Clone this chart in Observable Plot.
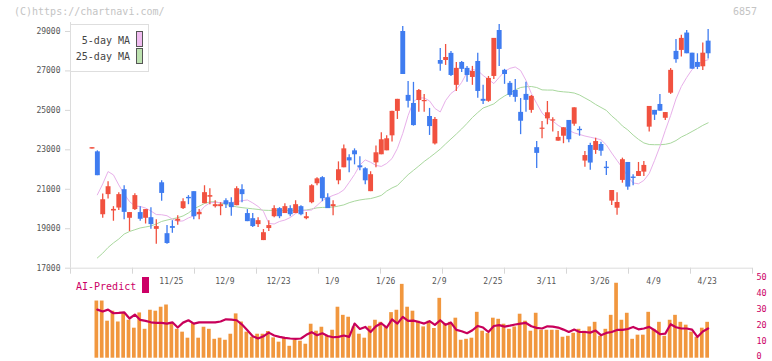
<!DOCTYPE html>
<html><head><meta charset="utf-8">
<script src="https://cdn.jsdelivr.net/npm/d3@7"></script>
<script src="https://cdn.jsdelivr.net/npm/@observablehq/plot@0.6"></script>
<style>
html,body{margin:0;padding:0;background:#fff;}
#wrap{position:relative;width:772px;height:361px;overflow:hidden;font-family:"DejaVu Sans Mono",monospace;}
#wrap svg{position:absolute;left:0;top:0;}
.lbl{position:absolute;white-space:nowrap;line-height:10px;font-size:10px;}
</style></head><body>
<div id="wrap"></div>
<script>
// ---- data ----
const open = [
23040,22900,19710,20730,19900,20050,20980,19530,19970,19820,
19530,19560,18970,21330,18750,19110,19380,20020,20590,20880,
19710,20270,20600,20120,20120,20420,20320,20170,20980,19770,
19510,19210,18400,19010,19610,20020,19770,20020,19770,20120,
19510,20320,21280,21590,20570,20120,21430,22090,22600,22950,
22190,22040,20880,22340,22750,22950,23710,24950,29000,25760,
25350,25500,25440,24690,23300,27530,27530,27890,26270,27430,
27130,26670,27480,25560,25460,26720,29050,27030,26370,26010,
24900,25810,25000,23110,24040,24570,24460,23440,23690,24490,
24300,24040,22430,23220,22970,23270,22120,20400,20040,21450,
22360,21620,21650,21870,24150,25000,25300,24600,25870,27990,
28040,28920,27900,27430,27210,28510];
const close = [
23110,21690,20470,21130,19980,20730,19830,19820,20680,19480,
19970,19210,19110,20790,18250,19020,19480,20370,20520,19610,
19830,20830,20680,20220,20220,20220,20070,21030,20730,19360,
19110,19410,18800,19160,20020,19610,20120,19710,20220,19710,
19610,21180,21530,20520,20020,20220,21990,23050,22440,22750,
22090,21430,21740,22850,23510,23560,24950,25560,26820,25460,
24230,26010,25500,24180,24540,27340,27680,26770,27130,27080,
26770,26970,25960,25460,26620,28650,28090,26820,25760,25660,
24450,25510,25710,22820,24100,24880,24520,23630,24120,23510,
25130,23970,22710,22330,23420,22930,22050,20940,20330,22500,
21110,21550,21900,22210,25200,24760,24960,24890,27030,27570,
28650,27870,27090,27180,27900,27870];
const high = [
23110,22950,20760,21380,20120,20830,21180,19820,20780,20120,
19970,20070,19460,21430,19160,19410,19660,20520,20680,20880,
19970,21180,21030,20420,20320,20520,20570,21130,21230,19970,
19770,19560,18960,19410,20170,20070,20270,20170,20420,20170,
19820,21230,21590,21640,20780,20420,22390,23250,22750,23050,
22650,22090,21890,23200,23860,23710,24950,25560,29250,26470,
26420,26060,25810,25100,24640,28140,28340,27990,27430,27480,
27230,27230,27890,26270,26720,28650,29350,27080,26470,26570,
25600,26420,25760,23420,24440,25450,24630,23930,24120,24490,
25130,24170,22920,23340,23590,23390,22410,20940,20820,22580,
22360,21740,22360,22410,25200,25000,25810,24890,27120,28590,
28810,29050,27900,27870,28410,29100];
const low = [
23040,21690,19530,20510,19380,19920,19460,18860,19920,19380,
19240,18970,18210,20390,18210,18770,19180,19970,20220,19460,
19460,20270,20220,20050,19660,20020,19630,20170,20320,19360,
19060,19060,18400,18860,19560,19510,19770,19610,19770,19660,
19460,20270,21180,20370,20020,19660,21230,22090,21840,22240,
21940,21230,20880,22090,22750,22950,23400,24540,26820,25120,
24200,24900,24910,23730,23250,26980,27280,26720,25960,26920,
26420,26270,25610,25300,25410,26570,27230,26320,25660,25410,
23770,24900,24850,22060,23560,24270,23900,23440,23310,23360,
24200,23690,22120,21970,22770,22680,21700,20180,19690,21310,
20950,21180,21650,21650,23900,24490,24960,24490,25810,27390,
27700,27870,27090,27070,27020,27610];
const ma5 = [
null,20720,21270,21900,21730,21220,20760,20380,20150,20130,
20050,19900,19720,19710,19660,19490,19370,19400,19550,19650,
19820,20130,20310,20340,20320,20320,20330,20370,20420,20460,
20310,20130,19880,19270,19240,19370,19440,19570,19770,19930,
19930,19950,20180,20430,20580,20690,20790,20970,21350,21750,
22230,22490,22370,22210,22160,22310,22560,23070,23830,24740,
25450,25630,25630,25480,25100,24920,25500,25860,26060,26420,
26920,27070,27020,26770,26570,26360,26670,26970,27130,27200,
27020,26520,25860,25350,24870,24590,24460,24240,24080,23980,
23860,23780,23700,23640,23580,23510,23250,22840,22460,22080,
21650,21320,21280,21450,21800,22460,23170,23980,24740,25580,
26210,26670,27070,27330,27480,27570];
const ma25 = [
null,17520,17760,18050,18280,18480,18730,18860,18950,19040,
19090,19140,19240,19370,19440,19500,19560,19650,19800,20010,
20140,20280,20360,20370,20300,20240,20160,20110,20070,20040,
20010,19980,19940,19930,19930,19930,19930,19930,19930,19930,
19950,20000,20060,20080,20090,20100,20150,20210,20320,20400,
20460,20500,20530,20600,20690,20910,21070,21190,21470,21740,
21960,22180,22410,22610,22820,23040,23300,23550,23800,24060,
24340,24640,24890,25120,25220,25330,25550,25730,25880,26040,
26160,26200,26210,26160,26040,26030,26030,25970,25940,25920,
25880,25780,25630,25480,25300,25150,25000,24720,24490,24210,
24010,23750,23530,23350,23270,23260,23260,23280,23340,23470,
23650,23780,23930,24080,24240,24370];
const volume = [
null,36.0,36.0,23.3,29.6,22.8,28.7,23.9,18.9,28.5,
18.2,30.2,29.6,32.1,33.5,22.4,18.2,16.4,12.6,21.8,
12.6,19.5,18.2,11.9,12.6,11.3,15.1,27.9,22.8,16.4,
13.2,15.1,15.1,16.8,12.8,10.1,12.8,7.5,11.3,10.7,
8.8,21.4,17.0,19.5,13.8,17.6,32.1,27.0,25.8,19.7,
15.1,12.6,20.1,23.9,22.6,19.7,28.7,30.2,46.5,32.1,
29.6,23.3,19.7,23.3,18.7,37.7,21.8,22.6,25.2,11.3,
11.9,12.6,28.9,17.0,15.5,25.2,24.5,21.4,18.2,19.7,
27.7,23.3,17.0,28.3,17.6,17.6,17.6,17.6,13.2,13.8,
15.7,18.2,17.0,19.7,22.6,13.8,18.2,27.0,47.2,23.9,
28.3,11.9,14.5,14.5,28.9,18.2,22.6,13.8,23.9,27.0,
22.6,20.8,16.4,13.2,18.9,22.6];
const aiPredict = [
null,30.6,29.4,30.6,28.3,28.5,28.9,25.0,27.5,24.1,
23.5,22.6,22.2,22.2,21.8,22.6,19.3,22.4,23.9,21.8,
22.6,22.6,22.6,22.6,23.1,24.5,24.3,23.9,21.2,17.6,
13.8,12.4,13.8,16.1,14.3,13.4,12.8,12.4,12.2,12.4,
14.7,16.4,14.5,15.7,14.0,13.2,13.4,14.3,13.4,21.8,
18.4,19.7,16.5,20.1,22.0,19.3,24.5,21.8,26.0,23.5,
23.7,22.8,21.8,23.3,21.0,23.9,21.0,22.4,17.8,17.0,
15.7,17.6,20.3,19.3,16.5,20.3,20.8,19.9,20.5,21.2,
21.8,22.2,20.1,19.1,18.7,20.1,19.9,19.3,18.0,16.5,
18.0,16.5,16.5,16.1,17.4,14.5,15.9,16.5,17.8,17.8,
18.4,19.7,18.2,18.7,19.7,17.6,15.1,15.5,21.4,19.5,
18.7,18.7,18.0,13.4,16.8,18.7];
const labelIdx = [15,25,35,45,55,65,75,85,95,105,115];
const labelText = ["11/25","12/9","12/23","1/9","1/26","2/9","2/25","3/11","3/26","4/9","4/23"];
const priceTicks = [17000,19000,21000,23000,25000,27000,29000];
const volTicks = [0,10,20,30,40,50];

// ---- build ----
const RED = "#f1513f", BLUE = "#3f7cf0";
const idx = open.map((_, i) => i);
const candles = idx.map(i => ({i, o: open[i], h: high[i], l: low[i], c: close[i], col: close[i] >= open[i] ? RED : BLUE}));
const labels = labelIdx.map((d, k) => ({i: d, t: labelText[k]}));
const xDomain = [-4.013, 123.28];
const gridTicks = d3.range(12).map(k => xDomain[0] + k * (xDomain[1] - xDomain[0]) / 11);
const font = {fontFamily: "DejaVu Sans Mono, monospace", fontSize: "8px", background: "transparent", overflow: "visible"};

const main = Plot.plot({
  width: 772, height: 361,
  marginLeft: 70, marginRight: 20, marginTop: 22.1, marginBottom: 93.3,
  style: font,
  color: {type: "identity"},
  x: {domain: xDomain, axis: null},
  y: {domain: [17000, 29450], axis: null},
  marks: [
    Plot.axisY(priceTicks, {anchor: "left", label: null, tickSize: 5, tickPadding: 5, stroke: "#d6d6d6", fill: "#555", fontSize: 8, tickFormat: d => String(d)}),
    Plot.axisX(gridTicks, {anchor: "bottom", label: null, tickSize: 6, stroke: "#d6d6d6", tickFormat: () => ""}),
    Plot.ruleY([17000], {stroke: "#dcdcdc"}),
    Plot.ruleX([xDomain[0]], {stroke: "#dcdcdc"}),
    Plot.text(labels, {x: "i", frameAnchor: "bottom", dy: 15.5, dx: -1, text: "t", fill: "#555", fontSize: 8}),
    Plot.line(idx, {x: i => i, y: i => ma25[i], stroke: "#a9d89e", strokeWidth: 1}),
    Plot.line(idx, {x: i => i, y: i => ma5[i], stroke: "#e8b0ea", strokeWidth: 1}),
    Plot.ruleX(candles, {x: "i", y1: "l", y2: "h", stroke: "col", strokeWidth: 1.3}),
    Plot.ruleX(candles, {x: "i", y1: "o", y2: "c", stroke: "col", strokeWidth: 4.9})
  ]
});

const volData = idx.filter(i => volume[i] != null).map(i => ({i, v: volume[i]}));
const aiData = idx.filter(i => aiPredict[i] != null).map(i => ({i, v: aiPredict[i]}));
const vplot = Plot.plot({
  width: 772, height: 361,
  marginLeft: 70, marginRight: 20, marginTop: 278.3, marginBottom: 3.3,
  style: font,
  x: {domain: xDomain, axis: null},
  y: {domain: [0, 50], axis: null},
  marks: [
    Plot.axisY(volTicks, {anchor: "right", label: null, tickSize: 0, tickPadding: 4, dy: -1.5, fill: "#cc0066", fontSize: 8.5}),
    Plot.ruleX(volData, {x: "i", y1: 0, y2: "v", stroke: "#f1973e", strokeWidth: 3.7, dx: -1}),
    Plot.line(aiData, {x: "i", y: "v", stroke: "#c8005a", strokeWidth: 2.2})
  ]
});

const wrap = document.getElementById("wrap");
wrap.appendChild(main);
wrap.appendChild(vplot);
wrap.insertAdjacentHTML("beforeend", `
<div class="lbl" style="left:14px;top:7px;color:#c4c4c4;">(C)https://chartnavi.com/</div>
<div class="lbl" style="left:733px;top:7px;color:#c4c4c4;">6857</div>
<div style="position:absolute;left:70px;top:24px;width:79px;height:48px;box-sizing:border-box;border:1px solid #dedede;background:#fff;"></div>
<div class="lbl" style="left:70px;width:60px;text-align:right;top:36px;color:#444;">5-day MA</div>
<div class="lbl" style="left:70px;width:60px;text-align:right;top:52px;color:#444;">25-day MA</div>
<div style="position:absolute;left:136px;top:31px;width:7px;height:16px;box-sizing:border-box;border:1px solid #555;background:#f0bcf0;"></div>
<div style="position:absolute;left:136px;top:48px;width:7px;height:16px;box-sizing:border-box;border:1px solid #555;background:#bde2b0;"></div>
<div class="lbl" style="left:76px;top:282px;color:#cc0066;">AI-Predict</div>
<div style="position:absolute;left:142px;top:277px;width:7px;height:16px;background:#cc0066;"></div>
`);
</script></body></html>
